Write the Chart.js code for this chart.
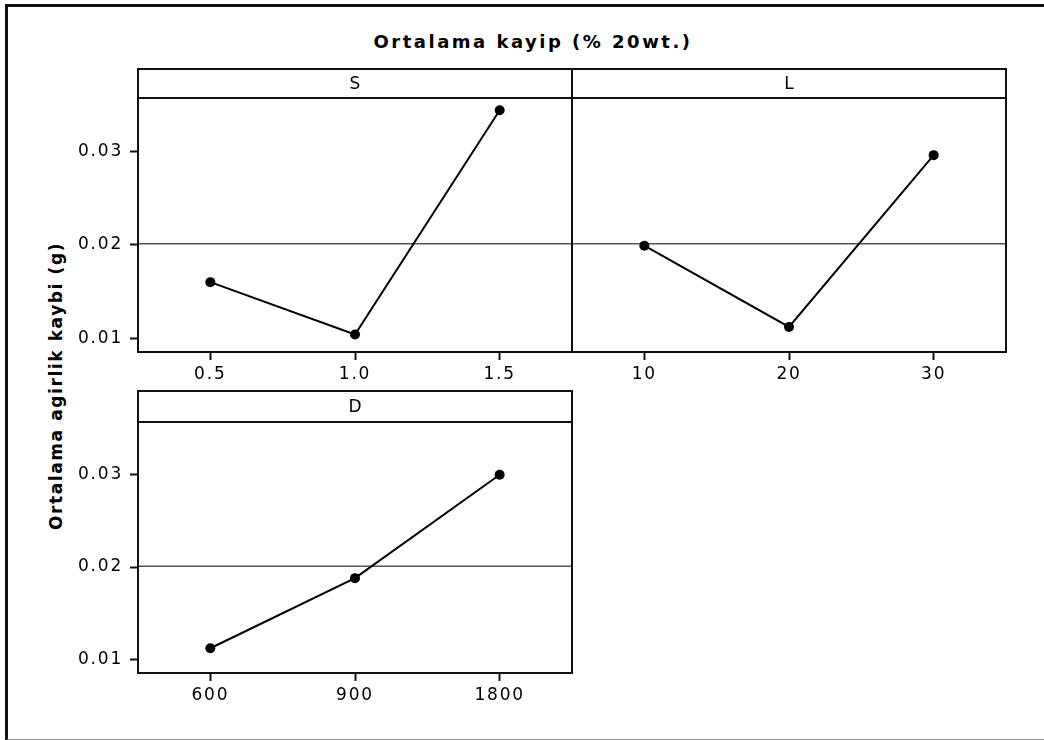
<!DOCTYPE html>
<html>
<head>
<meta charset="utf-8">
<script src="https://cdn.jsdelivr.net/npm/chart.js@4"></script>
<style>
    body { margin: 0; background: #fff; width: 1044px; height: 740px; overflow: hidden; position: relative; font-family: "DejaVu Sans", Verdana, sans-serif; }
    #frame { position: absolute; left: 5px; top: 4px; width: 1060px; height: 732px; border-top: 3px solid #111; border-left: 3px solid #111; border-bottom: 2px solid #999; }
    #title { position: absolute; left: 0; top: 32px; width: 1066px; text-align: center; font-weight: bold; font-size: 18px; letter-spacing: 2.5px; line-height: 20px; color: #000; }
    #ylabel { position: absolute; left: -144px; top: 376px; width: 400px; height: 20px; line-height: 20px; text-align: center; font-weight: bold; font-size: 17px; letter-spacing: 1.6px; transform: rotate(-90deg); color: #000; }
    canvas { position: absolute; }
    #chartS { left: 0; top: 60px; }
    #chartL { left: 564px; top: 60px; }
    #chartD { left: 0; top: 382px; }
</style>
</head>
<body>
<div id="frame"></div>
<div id="title">Ortalama kayip (% 20wt.)</div>
<div id="ylabel">Ortalama agirlik kaybi (g)</div>
<canvas id="chartS" width="580" height="340"></canvas>
<canvas id="chartL" width="480" height="340"></canvas>
<canvas id="chartD" width="580" height="340"></canvas>

<script>
// main effects data (means)
const sLevels = ["0.5", "1.0", "1.5"];
const sMeans = [0.0160, 0.0104, 0.0344];

const lLevels = ["10", "20", "30"];
const lMeans = [0.0199, 0.0112, 0.0296];

const dLevels = ["600", "900", "1800"];
const dMeans = [0.0112, 0.0188, 0.0300];

const yTicks = [0.01, 0.02, 0.03];
const grandMean = 0.0201;

const yMin = 0.00852;
const yMax = 0.03572;

// strip header + box around plot + grand mean line
const panelPlugin = {
    id: "panel",

    beforeDraw(chart) {
        chart.ctx.letterSpacing = "1.8px";
    },

    beforeDatasetsDraw(chart) {
        const ctx = chart.ctx;
        const area = chart.chartArea;
        const y = chart.scales.y.getPixelForValue(grandMean);
        ctx.save();
        ctx.strokeStyle = "#555";
        ctx.lineWidth = 1.5;
        ctx.beginPath();
        ctx.moveTo(area.left, y);
        ctx.lineTo(area.right, y);
        ctx.stroke();
        ctx.restore();
    },

    afterDraw(chart, args, opts) {
        const ctx = chart.ctx;
        const area = chart.chartArea;
        const h = opts.stripHeight;
        ctx.save();
        ctx.letterSpacing = "0px";
        ctx.strokeStyle = "#111";
        ctx.lineWidth = 2;
        ctx.strokeRect(area.left, area.top - h, area.right - area.left, h);
        ctx.strokeRect(area.left, area.top, area.right - area.left, area.bottom - area.top);
        ctx.fillStyle = "#000";
        ctx.font = "17px \"DejaVu Sans\"";
        ctx.textAlign = "center";
        ctx.textBaseline = "middle";
        ctx.fillText(opts.label, (area.left + area.right) / 2, area.top - h / 2 + 1);
        ctx.restore();
    }
};

function makePanel(id, label, levels, means, showY, padding, xHeight, stripHeight) {

    const canvas = document.getElementById(id);

    return new Chart(canvas, {
        type: "line",

        data: {
            labels: levels,
            datasets: [{
                data: means,
                borderColor: "#000",
                borderWidth: 2,
                backgroundColor: "#000",
                pointRadius: 5,
                pointHoverRadius: 5,
                pointBackgroundColor: "#000",
                pointBorderWidth: 0,
                tension: 0
            }]
        },

        options: {
            responsive: false,
            animation: false,
            layout: { padding: padding },

            plugins: {
                legend: { display: false },
                tooltip: { enabled: false },
                panel: { label: label, stripHeight: stripHeight }
            },

            scales: {
                x: {
                    type: "category",
                    offset: true,
                    grid: {
                        drawOnChartArea: false,
                        drawTicks: true,
                        tickLength: 8,
                        tickWidth: 2,
                        tickColor: "#111"
                    },
                    border: { display: false },
                    ticks: {
                        color: "#000",
                        padding: 4,
                        maxRotation: 0,
                        font: { family: "DejaVu Sans", size: 17 }
                    },
                    afterFit(scale) {
                        scale.height = xHeight;
                    }
                },

                y: {
                    display: showY,
                    min: yMin,
                    max: yMax,
                    grid: {
                        drawOnChartArea: false,
                        drawTicks: true,
                        tickLength: 8,
                        tickWidth: 2,
                        tickColor: "#111"
                    },
                    border: { display: false },
                    ticks: {
                        color: "#000",
                        padding: 7,
                        font: { family: "DejaVu Sans", size: 17 },
                        callback: (v) => v.toFixed(2)
                    },
                    afterBuildTicks(scale) {
                        scale.ticks = yTicks.map((v) => ({ value: v }));
                    },
                    afterFit(scale) {
                        scale.width = showY ? 138 : 0;
                    }
                }
            }
        },

        plugins: [panelPlugin]
    });
}

window.addEventListener("load", () => {

    makePanel("chartS", "S", sLevels, sMeans, true,
        { left: 0, right: 8, top: 38, bottom: 0 }, 48, 29);

    makePanel("chartL", "L", lLevels, lMeans, false,
        { left: 8, right: 38, top: 38, bottom: 0 }, 48, 29);

    makePanel("chartD", "D", dLevels, dMeans, true,
        { left: 0, right: 8, top: 40, bottom: 0 }, 49, 31);

});
</script>
</body>
</html>
